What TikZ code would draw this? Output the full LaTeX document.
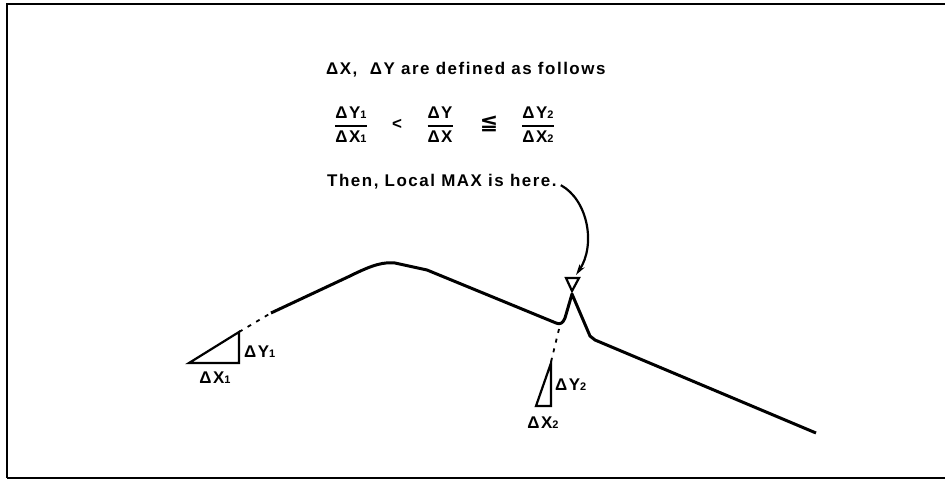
\documentclass[tikz,border=0pt]{standalone}
\usepackage{amsmath}
\usepackage{fontspec}
\setmainfont[LetterSpace=9]{Liberation Sans}
\newfontfamily\symfont{DejaVu Sans}
\usetikzlibrary{arrows.meta,positioning}

\newcommand\ratio[2]{$\genfrac{}{}{1.5pt}{0}{\text{#1}}{\text{#2}}$}
\newcommand\sub[1]{{\fontsize{11}{11}\selectfont #1}}

\begin{document}
\begin{tikzpicture}[
  x=1bp, y=-1bp,
  txt/.style={inner sep=0pt, font=\fontsize{17}{20}\selectfont\bfseries},
  curve/.style={line width=3bp, line join=round},
  ext/.style={line width=1.8bp, dash pattern=on 4bp off 6bp},
  tri/.style={line width=2.2bp, line join=miter},
  arr/.style={-{Stealth[length=11bp, width=6bp]}, line width=2.2bp}
]
\useasboundingbox (0,0) rectangle (945,488);
% frame, open at the right
\draw[line width=2bp] (945,4) -- (7,4) -- (7,478);
\draw[line width=2.6bp] (7,478) -- (945,478);

% texts
\node[txt, anchor=base west] (title) at (326,75) {ΔX,\ \ ΔY are defined as follows};
\node[txt] (r1) at (351,125) {\ratio{ΔY\sub1}{ΔX\sub1}};
\node[txt] (lt) at (397,124) {<};
\node[txt] (r2) at (440,125) {\ratio{ΔY}{ΔX}};
\node[txt] (le) at (489,124) {\symfont\fontsize{22}{22}\selectfont ≦};
\node[txt] (r3) at (538,125) {\ratio{ΔY\sub2}{ΔX\sub2}};
\node[txt, anchor=base west] (then) at (327,187) {Then, Local MAX is here.};

% the curve
\draw[curve] (271,313) -- (350,276) .. controls (374,264) and (384,262) .. (395,263)
  -- (427,270) -- (556,323) .. controls (560,325) and (563,323) .. (565,318)
  -- (572,294) -- (590,336) -- (595,340) -- (816,433);
\draw[ext] (239,332) -- (271,313);
\draw[ext] (551,362) -- (560,325);

% slope triangles
\draw[tri] (189,363) -- (239,363) -- (239,332) -- cycle;
\node[txt, anchor=west] (dy1) at (244,352) {ΔY\sub1};
\node[txt] (dx1) at (215,378) {ΔX\sub1};
\draw[tri] (536,406) -- (551,406) -- (551,363) -- cycle;
\node[txt, anchor=west] (dy2) at (555,385) {ΔY\sub2};
\node[txt] (dx2) at (543,423) {ΔX\sub2};

% local max marker
\draw[tri] (566,278) -- (579,278) -- (572,291) -- cycle;
\coordinate (tip) at (576,275);
\draw[arr] ([xshift=4bp, yshift=-3bp]then.east) .. controls (588,200) and (596,245) .. (tip);
\end{tikzpicture}
\end{document}
